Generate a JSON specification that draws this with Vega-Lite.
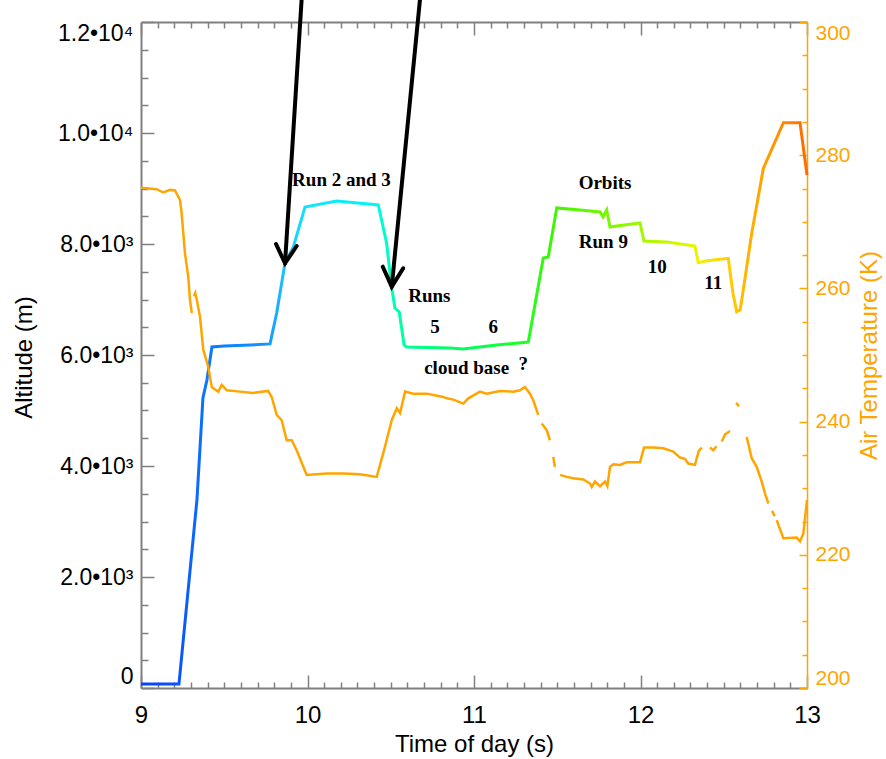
{
  "$schema": "https://vega.github.io/schema/vega-lite/v6.json",
  "width": 666,
  "height": 666,
  "autosize": {"type": "none"},
  "padding": {"left": 141, "top": 22, "right": 79, "bottom": 71},
  "background": "white",
  "config": {"view": {"stroke": null}, "axis": {"grid": false, "labelOverlap": false}},
  "datasets": {
    "alt": [
      {"time": 9.0, "altitude": 70}, {"time": 9.228, "altitude": 70}, {"time": 9.336, "altitude": 3390},
      {"time": 9.372, "altitude": 5225}, {"time": 9.396, "altitude": 5550}, {"time": 9.426, "altitude": 6145},
      {"time": 9.5, "altitude": 6160}, {"time": 9.655, "altitude": 6180}, {"time": 9.775, "altitude": 6200},
      {"time": 9.815, "altitude": 6757}, {"time": 9.865, "altitude": 7658}, {"time": 9.915, "altitude": 7946},
      {"time": 9.985, "altitude": 8667}, {"time": 10.175, "altitude": 8775}, {"time": 10.425, "altitude": 8703},
      {"time": 10.475, "altitude": 8018}, {"time": 10.505, "altitude": 7225}, {"time": 10.525, "altitude": 6847},
      {"time": 10.551, "altitude": 6775}, {"time": 10.58, "altitude": 6180}, {"time": 10.596, "altitude": 6144},
      {"time": 10.856, "altitude": 6126}, {"time": 10.934, "altitude": 6108}, {"time": 11.136, "altitude": 6180},
      {"time": 11.326, "altitude": 6234}, {"time": 11.416, "altitude": 7748}, {"time": 11.446, "altitude": 7766},
      {"time": 11.497, "altitude": 8649}, {"time": 11.637, "altitude": 8613}, {"time": 11.757, "altitude": 8577},
      {"time": 11.775, "altitude": 8487}, {"time": 11.797, "altitude": 8613}, {"time": 11.817, "altitude": 8306},
      {"time": 11.857, "altitude": 8324}, {"time": 11.997, "altitude": 8378}, {"time": 12.021, "altitude": 8054},
      {"time": 12.157, "altitude": 8036}, {"time": 12.327, "altitude": 7964}, {"time": 12.347, "altitude": 7663},
      {"time": 12.398, "altitude": 7699}, {"time": 12.527, "altitude": 7742}, {"time": 12.556, "altitude": 7100},
      {"time": 12.578, "altitude": 6780}, {"time": 12.598, "altitude": 6811}, {"time": 12.611, "altitude": 7050},
      {"time": 12.668, "altitude": 8193}, {"time": 12.738, "altitude": 9364}, {"time": 12.858, "altitude": 10186},
      {"time": 12.958, "altitude": 10186}, {"time": 13.0, "altitude": 9243}
    ],
    "temp": [
      {"time": 9.0, "temperature": 275.1, "seg": "a"}, {"time": 9.05, "temperature": 275.0, "seg": "a"},
      {"time": 9.094, "temperature": 274.9, "seg": "a"}, {"time": 9.134, "temperature": 274.4, "seg": "a"},
      {"time": 9.174, "temperature": 274.8, "seg": "a"}, {"time": 9.204, "temperature": 274.7, "seg": "a"},
      {"time": 9.234, "temperature": 273.3, "seg": "a"}, {"time": 9.244, "temperature": 271.3, "seg": "a"},
      {"time": 9.254, "temperature": 268.3, "seg": "a"}, {"time": 9.264, "temperature": 265.3, "seg": "a"},
      {"time": 9.284, "temperature": 261.7, "seg": "a"}, {"time": 9.294, "temperature": 258.3, "seg": "a"},
      {"time": 9.305, "temperature": 256.3, "seg": "a"},
      {"time": 9.318, "temperature": 258.8, "seg": "b"}, {"time": 9.326, "temperature": 259.3, "seg": "b"},
      {"time": 9.335, "temperature": 258.3, "seg": "b"}, {"time": 9.354, "temperature": 255.8, "seg": "b"},
      {"time": 9.374, "temperature": 250.8, "seg": "b"}, {"time": 9.404, "temperature": 248.2, "seg": "b"},
      {"time": 9.425, "temperature": 245.2, "seg": "b"}, {"time": 9.434, "temperature": 245.0, "seg": "b"},
      {"time": 9.464, "temperature": 244.5, "seg": "b"}, {"time": 9.485, "temperature": 245.5, "seg": "b"},
      {"time": 9.515, "temperature": 244.7, "seg": "b"}, {"time": 9.595, "temperature": 244.5, "seg": "b"},
      {"time": 9.673, "temperature": 244.3, "seg": "b"}, {"time": 9.763, "temperature": 244.6, "seg": "b"},
      {"time": 9.785, "temperature": 243.7, "seg": "b"}, {"time": 9.815, "temperature": 241.0, "seg": "b"},
      {"time": 9.845, "temperature": 240.2, "seg": "b"}, {"time": 9.875, "temperature": 237.2, "seg": "b"},
      {"time": 9.905, "temperature": 237.2, "seg": "b"}, {"time": 9.935, "temperature": 235.7, "seg": "b"},
      {"time": 9.995, "temperature": 232.0, "seg": "b"}, {"time": 10.115, "temperature": 232.2, "seg": "b"},
      {"time": 10.215, "temperature": 232.2, "seg": "b"}, {"time": 10.315, "temperature": 232.1, "seg": "b"},
      {"time": 10.416, "temperature": 231.7, "seg": "b"}, {"time": 10.465, "temperature": 236.2, "seg": "b"},
      {"time": 10.506, "temperature": 240.2, "seg": "b"}, {"time": 10.536, "temperature": 242.0, "seg": "b"},
      {"time": 10.556, "temperature": 241.3, "seg": "b"}, {"time": 10.586, "temperature": 244.5, "seg": "b"},
      {"time": 10.635, "temperature": 244.2, "seg": "b"}, {"time": 10.716, "temperature": 244.2, "seg": "b"},
      {"time": 10.756, "temperature": 244.0, "seg": "b"}, {"time": 10.816, "temperature": 243.7, "seg": "b"},
      {"time": 10.836, "temperature": 243.5, "seg": "b"}, {"time": 10.876, "temperature": 243.3, "seg": "b"},
      {"time": 10.936, "temperature": 242.7, "seg": "b"}, {"time": 10.966, "temperature": 243.5, "seg": "b"},
      {"time": 11.036, "temperature": 244.5, "seg": "b"}, {"time": 11.076, "temperature": 244.2, "seg": "b"},
      {"time": 11.156, "temperature": 244.6, "seg": "b"}, {"time": 11.236, "temperature": 244.5, "seg": "b"},
      {"time": 11.276, "temperature": 244.7, "seg": "b"}, {"time": 11.306, "temperature": 245.2, "seg": "b"},
      {"time": 11.336, "temperature": 244.2, "seg": "b"}, {"time": 11.356, "temperature": 243.2, "seg": "b"},
      {"time": 11.386, "temperature": 241.0, "seg": "b"},
      {"time": 11.407, "temperature": 239.7, "seg": "c"}, {"time": 11.437, "temperature": 238.7, "seg": "c"},
      {"time": 11.456, "temperature": 237.2, "seg": "c"},
      {"time": 11.476, "temperature": 234.7, "seg": "d"}, {"time": 11.486, "temperature": 233.2, "seg": "d"},
      {"time": 11.517, "temperature": 232.0, "seg": "e"}, {"time": 11.557, "temperature": 231.7, "seg": "e"},
      {"time": 11.596, "temperature": 231.5, "seg": "e"}, {"time": 11.656, "temperature": 231.3, "seg": "e"},
      {"time": 11.697, "temperature": 230.7, "seg": "e"}, {"time": 11.707, "temperature": 230.2, "seg": "e"},
      {"time": 11.727, "temperature": 231.0, "seg": "e"}, {"time": 11.757, "temperature": 230.3, "seg": "e"},
      {"time": 11.787, "temperature": 231.0, "seg": "e"}, {"time": 11.801, "temperature": 230.3, "seg": "e"},
      {"time": 11.817, "temperature": 233.2, "seg": "e"}, {"time": 11.837, "temperature": 233.6, "seg": "e"},
      {"time": 11.877, "temperature": 233.5, "seg": "e"}, {"time": 11.917, "temperature": 233.9, "seg": "e"},
      {"time": 11.997, "temperature": 233.9, "seg": "e"}, {"time": 12.021, "temperature": 236.1, "seg": "e"},
      {"time": 12.077, "temperature": 236.1, "seg": "e"}, {"time": 12.137, "temperature": 236.0, "seg": "e"},
      {"time": 12.197, "temperature": 235.5, "seg": "e"}, {"time": 12.237, "temperature": 234.6, "seg": "e"},
      {"time": 12.267, "temperature": 234.4, "seg": "e"}, {"time": 12.287, "temperature": 233.7, "seg": "e"},
      {"time": 12.327, "temperature": 233.5, "seg": "e"}, {"time": 12.35, "temperature": 235.6, "seg": "e"},
      {"time": 12.368, "temperature": 236.1, "seg": "e"},
      {"time": 12.417, "temperature": 236.1, "seg": "f"}, {"time": 12.437, "temperature": 235.7, "seg": "f"},
      {"time": 12.457, "temperature": 236.3, "seg": "f"},
      {"time": 12.488, "temperature": 237.0, "seg": "g"}, {"time": 12.508, "temperature": 238.1, "seg": "g"},
      {"time": 12.538, "temperature": 238.6, "seg": "g"},
      {"time": 12.574, "temperature": 242.8, "seg": "h"}, {"time": 12.592, "temperature": 242.3, "seg": "h"},
      {"time": 12.638, "temperature": 237.7, "seg": "i"}, {"time": 12.668, "temperature": 234.5, "seg": "i"},
      {"time": 12.698, "temperature": 233.2, "seg": "i"}, {"time": 12.728, "temperature": 231.0, "seg": "i"},
      {"time": 12.748, "temperature": 229.2, "seg": "i"}, {"time": 12.768, "temperature": 227.7, "seg": "i"},
      {"time": 12.79, "temperature": 226.6, "seg": "j"}, {"time": 12.806, "temperature": 225.8, "seg": "j"},
      {"time": 12.818, "temperature": 225.2, "seg": "k"}, {"time": 12.858, "temperature": 222.5, "seg": "k"},
      {"time": 12.938, "temperature": 222.6, "seg": "k"}, {"time": 12.958, "temperature": 222.0, "seg": "k"},
      {"time": 12.978, "temperature": 223.2, "seg": "k"}, {"time": 13.0, "temperature": 228.2, "seg": "k"}
    ],
    "ann": [
      {"time": 10.204, "altitude": 9153, "label": "Run 2 and 3"},
      {"time": 11.787, "altitude": 9094, "label": "Orbits"},
      {"time": 11.777, "altitude": 8036, "label": "Run 9"},
      {"time": 12.101, "altitude": 7580, "label": "10"},
      {"time": 12.437, "altitude": 7292, "label": "11"},
      {"time": 10.732, "altitude": 7069, "label": "Runs"},
      {"time": 10.766, "altitude": 6510, "label": "5"},
      {"time": 11.116, "altitude": 6510, "label": "6"},
      {"time": 10.956, "altitude": 5760, "label": "cloud base"},
      {"time": 11.296, "altitude": 5830, "label": "?"}
    ],
    "arrows": [
      {"part": "s1", "time": 9.965, "altitude": 12420, "ord": 1},
      {"part": "s1", "time": 9.865, "altitude": 7652, "ord": 2},
      {"part": "h1", "time": 9.811, "altitude": 8000, "ord": 1},
      {"part": "h1", "time": 9.865, "altitude": 7652, "ord": 2},
      {"part": "h1", "time": 9.935, "altitude": 7964, "ord": 3},
      {"part": "s2", "time": 10.676, "altitude": 12420, "ord": 1},
      {"part": "s2", "time": 10.506, "altitude": 7231, "ord": 2},
      {"part": "h2", "time": 10.452, "altitude": 7591, "ord": 1},
      {"part": "h2", "time": 10.506, "altitude": 7231, "ord": 2},
      {"part": "h2", "time": 10.575, "altitude": 7562, "ord": 3}
    ]
  },
  "layer": [
    {
      "data": {"name": "alt"},
      "mark": {
        "type": "line",
        "strokeWidth": 3,
        "stroke": {
          "gradient": "linear", "x1": 0, "y1": 0, "x2": 1, "y2": 0,
          "stops": [
            {"offset": 0, "color": "#0a40ff"},
            {"offset": 0.06, "color": "#0a55ff"},
            {"offset": 0.1, "color": "#0a78ff"},
            {"offset": 0.19, "color": "#1496ff"},
            {"offset": 0.22, "color": "#1ec8ff"},
            {"offset": 0.25, "color": "#10e4ff"},
            {"offset": 0.35, "color": "#00f8f0"},
            {"offset": 0.38, "color": "#00ffb4"},
            {"offset": 0.42, "color": "#00ff80"},
            {"offset": 0.5, "color": "#00ff55"},
            {"offset": 0.58, "color": "#20ff20"},
            {"offset": 0.62, "color": "#40f500"},
            {"offset": 0.7, "color": "#78f800"},
            {"offset": 0.75, "color": "#a0f800"},
            {"offset": 0.8, "color": "#d0f800"},
            {"offset": 0.84, "color": "#f0f000"},
            {"offset": 0.88, "color": "#ffd000"},
            {"offset": 0.91, "color": "#ffb400"},
            {"offset": 0.95, "color": "#ff9600"},
            {"offset": 1, "color": "#ff6a00"}
          ]
        }
      },
      "encoding": {
        "x": {
          "field": "time", "type": "quantitative",
          "scale": {"domain": [9, 13], "nice": false, "zero": false},
          "axis": {
            "orient": "bottom",
            "title": "Time of day (s)",
            "values": [9, 9.1, 9.2, 9.3, 9.4, 9.5, 9.6, 9.7, 9.8, 9.9, 10, 10.1, 10.2, 10.3, 10.4, 10.5, 10.6, 10.7, 10.8, 10.9, 11, 11.1, 11.2, 11.3, 11.4, 11.5, 11.6, 11.7, 11.8, 11.9, 12, 12.1, 12.2, 12.3, 12.4, 12.5, 12.6, 12.7, 12.8, 12.9, 13],
            "labelExpr": "abs(datum.value - round(datum.value)) < 0.001 ? toString(round(datum.value)) : ''",
            "tickSize": {"condition": {"test": "abs(datum.value - round(datum.value)) < 0.001", "value": -13}, "value": -6},
            "tickColor": "#808080", "tickWidth": 1.5,
            "domainColor": "#808080", "domainWidth": 2,
            "labelFont": "Liberation Sans", "labelFontSize": 24, "labelColor": "black",
            "labelFlush": false, "labelBaseline": "alphabetic", "labelPadding": 47,
            "titleFont": "Liberation Sans", "titleFontSize": 24, "titleFontWeight": "normal", "titleColor": "black",
            "titleX": 333, "titleY": 63, "titleBaseline": "alphabetic", "titleAlign": "center"
          }
        },
        "y": {
          "field": "altitude", "type": "quantitative",
          "scale": {"domain": [0, 12000], "nice": false, "zero": false},
          "axis": {
            "orient": "left",
            "title": "Altitude (m)",
            "values": [0, 500, 1000, 1500, 2000, 2500, 3000, 3500, 4000, 4500, 5000, 5500, 6000, 6500, 7000, 7500, 8000, 8500, 9000, 9500, 10000, 10500, 11000, 11500, 12000],
            "labelExpr": "datum.value == 0 ? '0' : (datum.value % 2000 != 0 ? '' : (datum.value >= 10000 ? format(datum.value / 10000, '.1f') + '•10⁴' : format(datum.value / 1000, '.1f') + '•10³'))",
            "tickSize": {"condition": {"test": "datum.value % 2000 == 0", "value": -13}, "value": -7},
            "tickColor": "#808080", "tickWidth": 1.5,
            "domainColor": "#808080", "domainWidth": 2,
            "labelFont": "Liberation Sans", "labelFontSize": 23, "labelColor": "black",
            "labelFlush": true, "labelPadding": 21,
            "titleFont": "Liberation Sans", "titleFontSize": 24, "titleFontWeight": "normal", "titleColor": "black",
            "titleX": -117, "titleY": 335, "titleAngle": -90, "titleBaseline": "middle", "titleAlign": "center"
          }
        }
      }
    },
    {
      "data": {"name": "temp"},
      "mark": {"type": "line", "stroke": "#FFA500", "strokeWidth": 2.5},
      "encoding": {
        "x": {
          "field": "time", "type": "quantitative",
          "scale": {"domain": [9, 13], "nice": false, "zero": false},
          "axis": {
            "orient": "top",
            "title": null,
            "labels": false,
            "values": [9, 9.1, 9.2, 9.3, 9.4, 9.5, 9.6, 9.7, 9.8, 9.9, 10, 10.1, 10.2, 10.3, 10.4, 10.5, 10.6, 10.7, 10.8, 10.9, 11, 11.1, 11.2, 11.3, 11.4, 11.5, 11.6, 11.7, 11.8, 11.9, 12, 12.1, 12.2, 12.3, 12.4, 12.5, 12.6, 12.7, 12.8, 12.9, 13],
            "tickSize": {"condition": {"test": "abs(datum.value - round(datum.value)) < 0.001", "value": -13}, "value": -6},
            "tickColor": "#808080", "tickWidth": 1.5,
            "domainColor": "#808080", "domainWidth": 2
          }
        },
        "y": {
          "field": "temperature", "type": "quantitative",
          "scale": {"domain": [200, 300], "nice": false, "zero": false},
          "axis": {
            "orient": "right",
            "title": "Air Temperature (K)",
            "values": [200, 205, 210, 215, 220, 225, 230, 235, 240, 245, 250, 255, 260, 265, 270, 275, 280, 285, 290, 295, 300],
            "labelExpr": "datum.value % 20 == 0 ? toString(datum.value) : ''",
            "tickSize": {"condition": {"test": "datum.value % 20 == 0", "value": -8}, "value": -5},
            "tickColor": "#FFA500", "tickWidth": 1.5,
            "domainColor": "#FFA500", "domainWidth": 1.5,
            "labelFont": "Liberation Sans", "labelFontSize": 21, "labelColor": "#FFA500",
            "labelFlush": true, "labelPadding": 16,
            "titleFont": "Liberation Sans", "titleFontSize": 24, "titleFontWeight": "normal", "titleColor": "#FFA500",
            "titleX": 62, "titleY": 333, "titleAngle": -90, "titleBaseline": "middle", "titleAlign": "center"
          }
        },
        "detail": {"field": "seg", "type": "nominal"}
      }
    },
    {
      "data": {"name": "ann"},
      "mark": {"type": "text", "font": "Liberation Serif", "fontWeight": "bold", "fontSize": 19, "color": "black", "align": "center", "baseline": "middle"},
      "encoding": {
        "x": {"field": "time", "type": "quantitative", "scale": {"domain": [9, 13], "nice": false, "zero": false}, "axis": null},
        "y": {"field": "altitude", "type": "quantitative", "scale": {"domain": [0, 12000], "nice": false, "zero": false}, "axis": null},
        "text": {"field": "label"}
      }
    },
    {
      "data": {"name": "arrows"},
      "mark": {"type": "line", "color": "black", "strokeWidth": 4, "strokeCap": "round", "strokeJoin": "miter", "clip": false},
      "encoding": {
        "x": {"field": "time", "type": "quantitative", "scale": {"domain": [9, 13], "nice": false, "zero": false}, "axis": null},
        "y": {"field": "altitude", "type": "quantitative", "scale": {"domain": [0, 12000], "nice": false, "zero": false}, "axis": null},
        "detail": {"field": "part", "type": "nominal"},
        "order": {"field": "ord", "type": "quantitative"}
      }
    }
  ],
  "resolve": {"scale": {"y": "independent"}, "axis": {"x": "independent", "y": "independent"}}
}
